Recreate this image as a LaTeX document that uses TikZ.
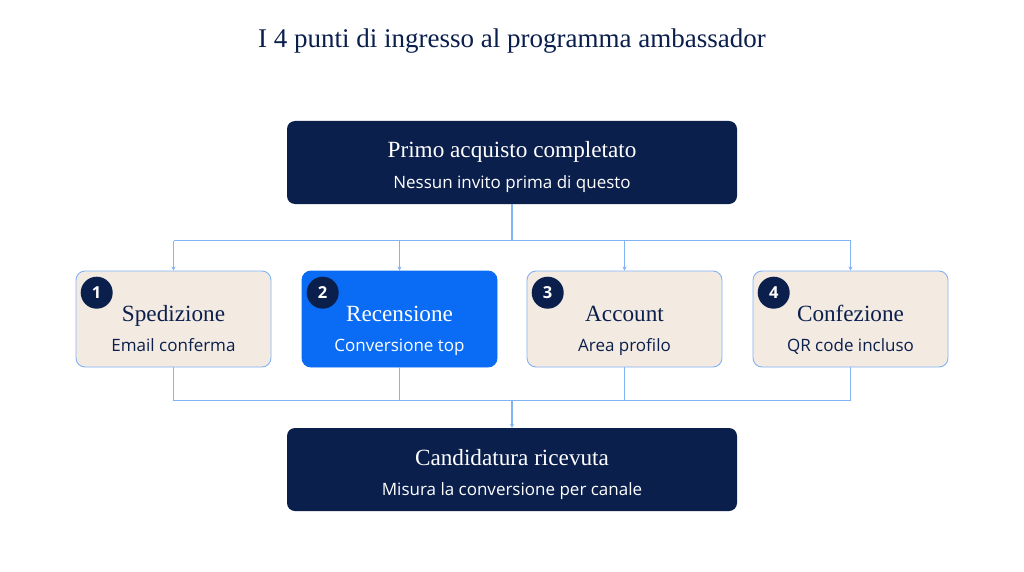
\documentclass[tikz,border=0pt]{standalone}
\usepackage{fontspec}
\setmainfont{Liberation Serif}
\setsansfont{Open Sans}
\usetikzlibrary{arrows.meta}
\definecolor{navy}{HTML}{0B1F4D}
\definecolor{cardbg}{HTML}{F3EAE1}
\definecolor{cardblue}{HTML}{0A6CF5}
\definecolor{linescolor}{HTML}{82B4F5}
\definecolor{subfg}{HTML}{1F2A44}

\newcommand{\titlefont}{\rmfamily\fontsize{27}{27}\selectfont}
\newcommand{\headfont}{\rmfamily\fontsize{23.2}{23.2}\selectfont}
\newcommand{\subfont}{\sffamily\fontsize{17}{17}\selectfont}

\tikzset{
	bigbox/.style={fill=navy,rounded corners=8pt,minimum width=450pt,minimum height=83pt,inner sep=0pt},
	card/.style={fill=cardbg,draw=linescolor,line width=0.9pt,rounded corners=9pt,minimum width=195pt,minimum height=96pt,inner sep=0pt},
	cardhot/.style={card,fill=cardblue,draw=cardblue},
	badge/.style={circle,fill=navy,minimum size=32pt,inner sep=0pt,text=white,font=\sffamily\bfseries\fontsize{16.5}{16.5}\selectfont},
	link/.style={draw=linescolor,line width=1.1pt},
	linkarrow/.style={link,-{Stealth[length=4pt,width=4pt]}},
}

\begin{document}
\begin{tikzpicture}[x=1pt,y=1pt,yscale=-1]

% background
\fill[white] (0,0) rectangle (1024,572);
\useasboundingbox (0,0) rectangle (1024,572);

% title
\node[navy,anchor=base] (title) at (512,48) {\titlefont I 4 punti di ingresso al programma ambassador};

% top box
\node[bigbox] (start) at (512,162.5) {};
\node[white,anchor=base] (starthead) at (512,158) {\headfont Primo acquisto completato};
\node[white,anchor=base] (startsub) at (512,188) {\subfont Nessun invito prima di questo};

% four cards
\foreach \i/\x/\st/\fg/\head/\sub in {
	1/173.5/card/navy/Spedizione/Email conferma,
	2/399.5/cardhot/white/Recensione/Conversione top,
	3/624.5/card/navy/Account/Area profilo,
	4/850.5/card/navy/Confezione/QR code incluso}
{
	\node[\st] (card\i) at (\x,319) {};
	\node[badge] (badge\i) at (\x-76.8,292.7) {\i};
	\node[\fg,anchor=base] (head\i) at (\x,321) {\headfont \head};
	\node[\fg,anchor=base] (sub\i) at (\x,351) {\subfont \sub};
}

% bottom box
\node[bigbox] (end) at (512,469.5) {};
\node[white,anchor=base] (endhead) at (512,465) {\headfont Candidatura ricevuta};
\node[white,anchor=base] (endsub) at (512,495) {\subfont Misura la conversione per canale};

% fan out
\coordinate (split) at (512,240.5);
\draw[link] (start.south) -- (split);
\foreach \i in {1,...,4}
	\draw[linkarrow] (split -| card\i.north) -- (card\i.north);
\draw[link] (split -| card1.north) -- (split -| card4.north);

% fan in
\coordinate (join) at (512,400.5);
\foreach \i in {1,...,4}
	\draw[link] (card\i.south) -- (join -| card\i.south);
\draw[link] (join -| card1.south) -- (join -| card4.south);
\draw[linkarrow] (join) -- (end.north);

\end{tikzpicture}
\end{document}
